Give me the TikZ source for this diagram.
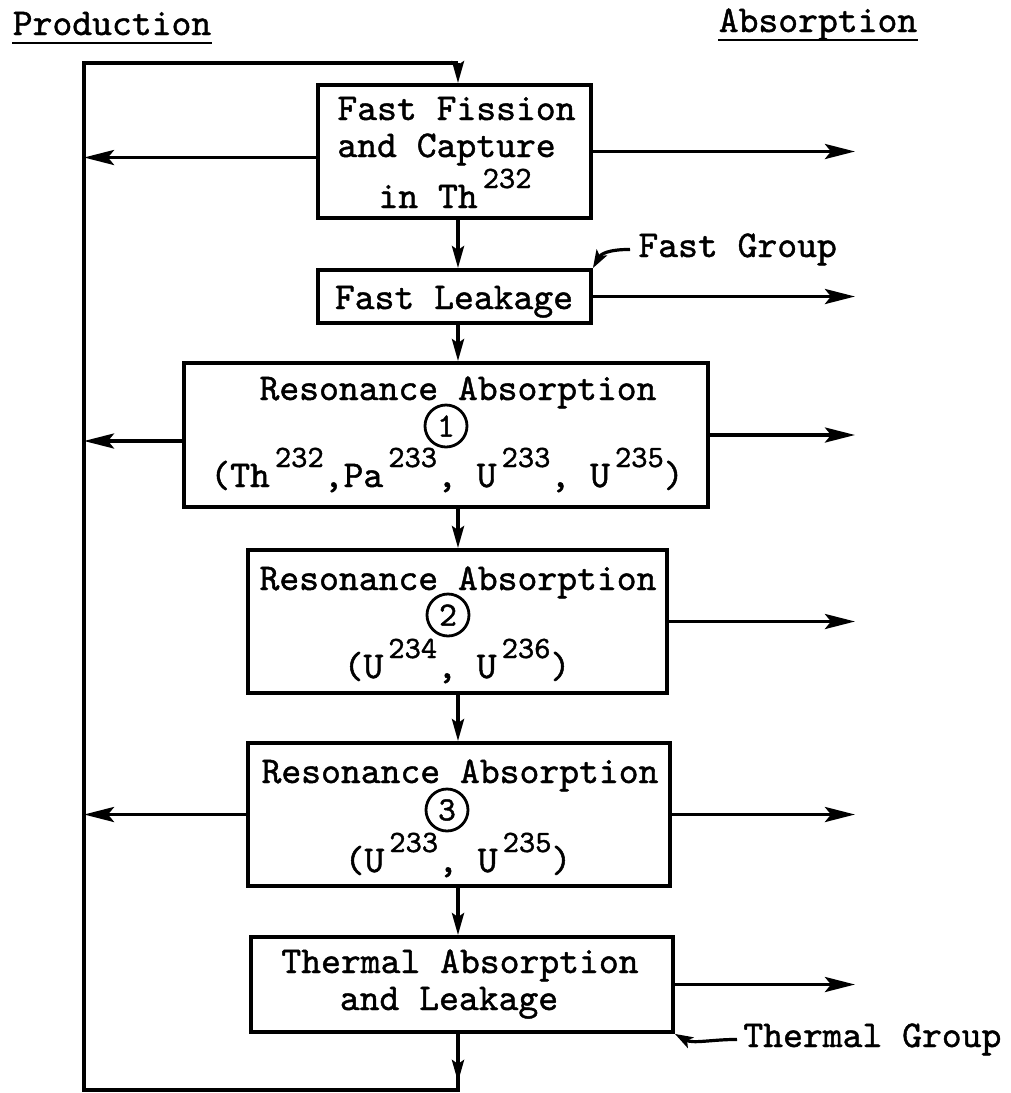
\documentclass[tikz,border=0pt]{standalone}
\usepackage{fontspec}
\usetikzlibrary{arrows.meta}
\setmonofont{lmmono10-regular.otf}[FakeBold=1.2]
% raised isotope mass number
\newcommand\iso[1]{\kern2.5pt\raisebox{10pt}{\fontsize{15.5}{16}\selectfont #1}}

\tikzset{
  box/.style={draw, rectangle, line width=1.9pt, inner sep=0pt},
  txt/.style={inner sep=0pt, anchor=base, font=\ttfamily\fontsize{18.9}{20}\selectfont},
  circ/.style={draw, circle, line width=1.4pt, minimum size=21pt, inner sep=0pt,
               font=\ttfamily\fontsize{17}{17}\selectfont},
  wire/.style={line width=1.9pt},
  arr/.style={line width=1.9pt, -{Stealth[length=15pt,width=7.5pt,inset=3pt]}},
  varr/.style={line width=1.9pt, -{Stealth[length=11pt,width=6pt,inset=2pt]}},
  carr/.style={line width=1.6pt, -{Stealth[length=9pt,width=6pt,inset=2pt]}},
  ul/.style={line width=1.2pt}
}

\begin{document}
\begin{tikzpicture}[x=0.5pt,y=-0.5pt]
  \fill[white] (0,0) rectangle (1011,1093);
  \useasboundingbox (0,0) rectangle (1011,1093);

  % headings
  \node[txt] (prod) at (112,35) {Production};
  \node[txt] (absn) at (818,32) {Absorption};
  \draw[ul] ([yshift=-4pt]prod.base west) -- ([yshift=-4pt]prod.base east);
  \draw[ul] ([yshift=-4pt]absn.base west) -- ([yshift=-4pt]absn.base east);

  % boxes
  \node[box, minimum width=136.5pt, minimum height=66.5pt] (b1) at (454.5,151.5) {};
  \node[box, minimum width=136.5pt, minimum height=26.5pt] (b2) at (454.5,296.5) {};
  \node[box, minimum width=262pt,   minimum height=72pt]   (b3) at (446,435) {};
  \node[box, minimum width=209.5pt, minimum height=71.5pt] (b4) at (457.5,621.5) {};
  \node[box, minimum width=211pt,   minimum height=71.5pt] (b5) at (459,814.5) {};
  \node[box, minimum width=211pt,   minimum height=47.5pt] (b6) at (462,984.5) {};

  % box texts
  \node[txt, anchor=base west] (t1a) at (337,120) {Fast Fission};
  \node[txt, anchor=base west] (t1b) at (337,157) {and Capture};
  \node[txt] (t1c) at (455,208) {in Th\iso{232}};
  \node[txt] (t2) at (454,309) {Fast Leakage};

  \node[txt] (t3a) at (458,400) {Resonance Absorption};
  \node[circ] (c1) at (446,426) {1};
  \node[txt] (t3b) at (447,487) {(Th\iso{232},Pa\iso{233}, U\iso{233}, U\iso{235})};

  \node[txt] (t4a) at (458,590) {Resonance Absorption};
  \node[circ] (c2) at (448,615) {2};
  \node[txt] (t4b) at (457,678) {(U\iso{234}, U\iso{236})};

  \node[txt] (t5a) at (460,783) {Resonance Absorption};
  \node[circ] (c3) at (447,810) {3};
  \node[txt] (t5b) at (458,872) {(U\iso{233}, U\iso{235})};

  \node[txt] (t6a) at (460,973) {Thermal Absorption};
  \node[txt] (t6b) at (449,1010) {and Leakage};

  % group labels
  \node[txt, anchor=base west] (fg) at (638,257) {Fast Group};
  \node[txt, anchor=base west] (tg) at (743,1047) {Thermal Group};

  % reference coordinates for the spine and the arrow columns
  \coordinate (sx) at (458,0);
  \coordinate (ax) at (855,0);
  \coordinate (tl) at (84,63);
  \coordinate (tr) at (458,63);
  \coordinate (bl) at (84,1090);
  \coordinate (br) at (458,1090);

  % feedback loop from the thermal group back to the top
  \draw[wire, line join=miter] (b6.south -| sx) -- (br) -- (bl) -- (tl) -- (tr);
  \draw[varr] (tr) -- (b1.north -| sx);
  \draw[varr] ([yshift=-8pt]b6.south -| sx) -- (sx |- 0,1082);

  % downward flow between boxes
  \draw[varr] (b1.south -| sx) -- (b2.north -| sx);
  \draw[varr] (b2.south -| sx) -- (b3.north -| sx);
  \draw[varr] (b3.south -| sx) -- (b4.north -| sx);
  \draw[varr] (b4.south -| sx) -- (b5.north -| sx);
  \draw[varr] (b5.south -| sx) -- (b6.north -| sx);

  % production arrows into the spine
  \draw[arr] ([yshift=-3pt]b1.west) -- ([yshift=-3pt]b1.west -| tl);
  \draw[arr] ([yshift=-3pt]b3.west) -- ([yshift=-3pt]b3.west -| tl);
  \draw[arr] (b5.west) -- (b5.west -| tl);

  % absorption arrows
  \draw[arr] (b1.east) -- (b1.east -| ax);
  \draw[arr] (b2.east) -- (b2.east -| ax);
  \draw[arr] (b3.east) -- (b3.east -| ax);
  \draw[arr] (b4.east) -- (b4.east -| ax);
  \draw[arr] (b5.east) -- (b5.east -| ax);
  \draw[arr] (b6.east) -- (b6.east -| ax);

  % group pointers
  \draw[carr] ([xshift=-4pt]fg.west) .. controls +(-22,0) and +(8,-14) .. (b2.north east);
  \draw[carr] ([xshift=-3pt]tg.west) .. controls +(-25,0) and +(18,10) .. (b6.south east);
\end{tikzpicture}
\end{document}
